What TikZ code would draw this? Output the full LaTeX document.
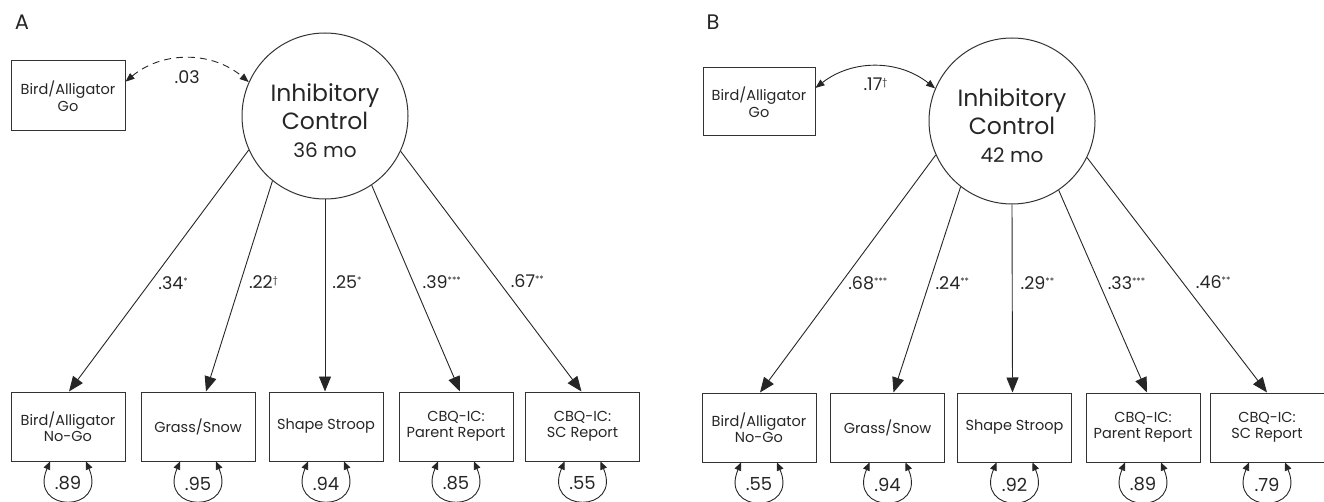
\documentclass[tikz,border=0pt]{standalone}
\usepackage{fontspec}
\setmainfont{Poppins}
\usetikzlibrary{arrows.meta,calc}
\newcommand{\sigmark}[1]{\raisebox{5pt}{\fontsize{9}{9}\selectfont #1}}
\begin{document}
\begin{tikzpicture}[x=1pt,y=-1pt,
  every node/.style={text=black!85},
  obs/.style={draw=black!80, line width=1pt, minimum width=114pt, minimum height=69pt, align=center, font=\fontsize{14.5}{16.5}\selectfont, inner sep=0pt},
  lat/.style={draw=black!80, line width=1pt, circle, minimum size=166pt, inner sep=0pt},
  lattext/.style={align=center, font=\fontsize{23.5}{28}\selectfont, inner sep=0pt},
  load/.style={draw=black!85, line width=0.9pt, -{Triangle[length=15pt,width=12pt]}},
  cov/.style={draw=black!85, line width=0.9pt, {Triangle[length=9pt,width=7pt]}-{Triangle[length=9pt,width=7pt]}},
  resid/.style={draw=black!85, line width=0.9pt, {Triangle[length=8pt,width=7pt]}-{Triangle[length=8pt,width=7pt]}},
  coef/.style={font=\fontsize{17.5}{18}\selectfont, inner sep=0pt, anchor=west},
  covlab/.style={font=\fontsize{17.5}{18}\selectfont, inner sep=0pt},
  evar/.style={font=\fontsize{18}{18}\selectfont, inner sep=0pt},
  panel/.style={font=\fontsize{21}{24}\selectfont, inner sep=0pt},
]
\useasboundingbox (0,0) rectangle (1324,502);

% ---------------- Panel A ----------------
\node[panel] (labA) at (22,22) {A};
\node[obs, minimum height=70pt] (goA) at (68,96) {Bird/Alligator\\Go};
\node[lat] (icA) at (325,116) {};
\node[lattext] (icAt) at (325,121) {Inhibitory\\Control\\{\fontsize{20}{28}\selectfont 36 mo}};

\node[obs] (a1) at (68,426.5) {Bird/Alligator\\No-Go};
\node[obs] (a2) at (198,426.5) {Grass/Snow};
\node[obs] (a3) at (326,426.5) {Shape Stroop};
\node[obs] (a4) at (456,426.5) {CBQ-IC:\\Parent Report};
\node[obs] (a5) at (582.5,426.5) {CBQ-IC:\\SC Report};

\draw[cov, dash pattern=on 7pt off 5pt] (goA.14) to[bend left=40] node[covlab, midway, below=12pt] {.03} (icA.156);

\draw[load] (icA.204) -- node[coef, pos=0.55, xshift=8pt] {.34\sigmark{*}} ([xshift=1pt]a1.north);
\draw[load] (icA.231) -- node[coef, pos=0.48, xshift=8pt] {.22\sigmark{\textdagger}} ([xshift=8pt]a2.north);
\draw[load] (icA.270) -- node[coef, pos=0.43, xshift=7pt] {.25\sigmark{*}} ([xshift=-1pt]a3.north);
\draw[load] (icA.304) -- node[coef, pos=0.47, xshift=9pt] {.39\sigmark{***}} ([xshift=4pt]a4.north);
\draw[load] (icA.335) -- node[coef, pos=0.54, xshift=12pt] {.67\sigmark{**}} ([xshift=-1pt]a5.north);

\foreach \b/\v in {a1/.89, a2/.95, a3/.94, a4/.85, a5/.55}{
  \draw[resid] ([xshift=-18pt]\b.south) .. controls +(-22,52) and +(22,52) .. ([xshift=18pt]\b.south);
  \node[evar] (e\b) at ($(\b.south)+(0,22)$) {\v};
}

% ---------------- Panel B ----------------
\node[panel] (labB) at (713,22) {B};
\node[obs, minimum width=112pt, minimum height=68pt] (goB) at (759,102) {Bird/Alligator\\Go};
\node[lat] (icB) at (1012,121) {};
\node[lattext] (icBt) at (1012,126) {Inhibitory\\Control\\{\fontsize{20}{28}\selectfont 42 mo}};

\node[obs] (b1) at (759,427.5) {Bird/Alligator\\No-Go};
\node[obs] (b2) at (887.5,427.5) {Grass/Snow};
\node[obs] (b3) at (1014.5,427.5) {Shape Stroop};
\node[obs] (b4) at (1143,427.5) {CBQ-IC:\\Parent Report};
\node[obs] (b5) at (1267,427.5) {CBQ-IC:\\SC Report};

\draw[cov] (goB.14) to[bend left=38] node[covlab, midway, below=11pt] {.17\sigmark{\textdagger}} (icB.157);

\draw[load] (icB.204) -- node[coef, pos=0.54, xshift=7pt] {.68\sigmark{***}} ([xshift=1pt]b1.north);
\draw[load] (icB.232) -- node[coef, pos=0.47, xshift=6pt] {.24\sigmark{**}} ([xshift=6pt]b2.north);
\draw[load] (icB.270) -- node[coef, pos=0.42, xshift=8pt] {.29\sigmark{**}} ([xshift=-2pt]b3.north);
\draw[load] (icB.304) -- node[coef, pos=0.46, xshift=8pt] {.33\sigmark{***}} ([xshift=4pt]b4.north);
\draw[load] (icB.334) -- node[coef, pos=0.53, xshift=13pt] {.46\sigmark{**}} (b5.north);

\foreach \b/\v in {b1/.55, b2/.94, b3/.92, b4/.89, b5/.79}{
  \draw[resid] ([xshift=-18pt]\b.south) .. controls +(-22,52) and +(22,52) .. ([xshift=18pt]\b.south);
  \node[evar] (e\b) at ($(\b.south)+(0,22)$) {\v};
}
\end{tikzpicture}
\end{document}
